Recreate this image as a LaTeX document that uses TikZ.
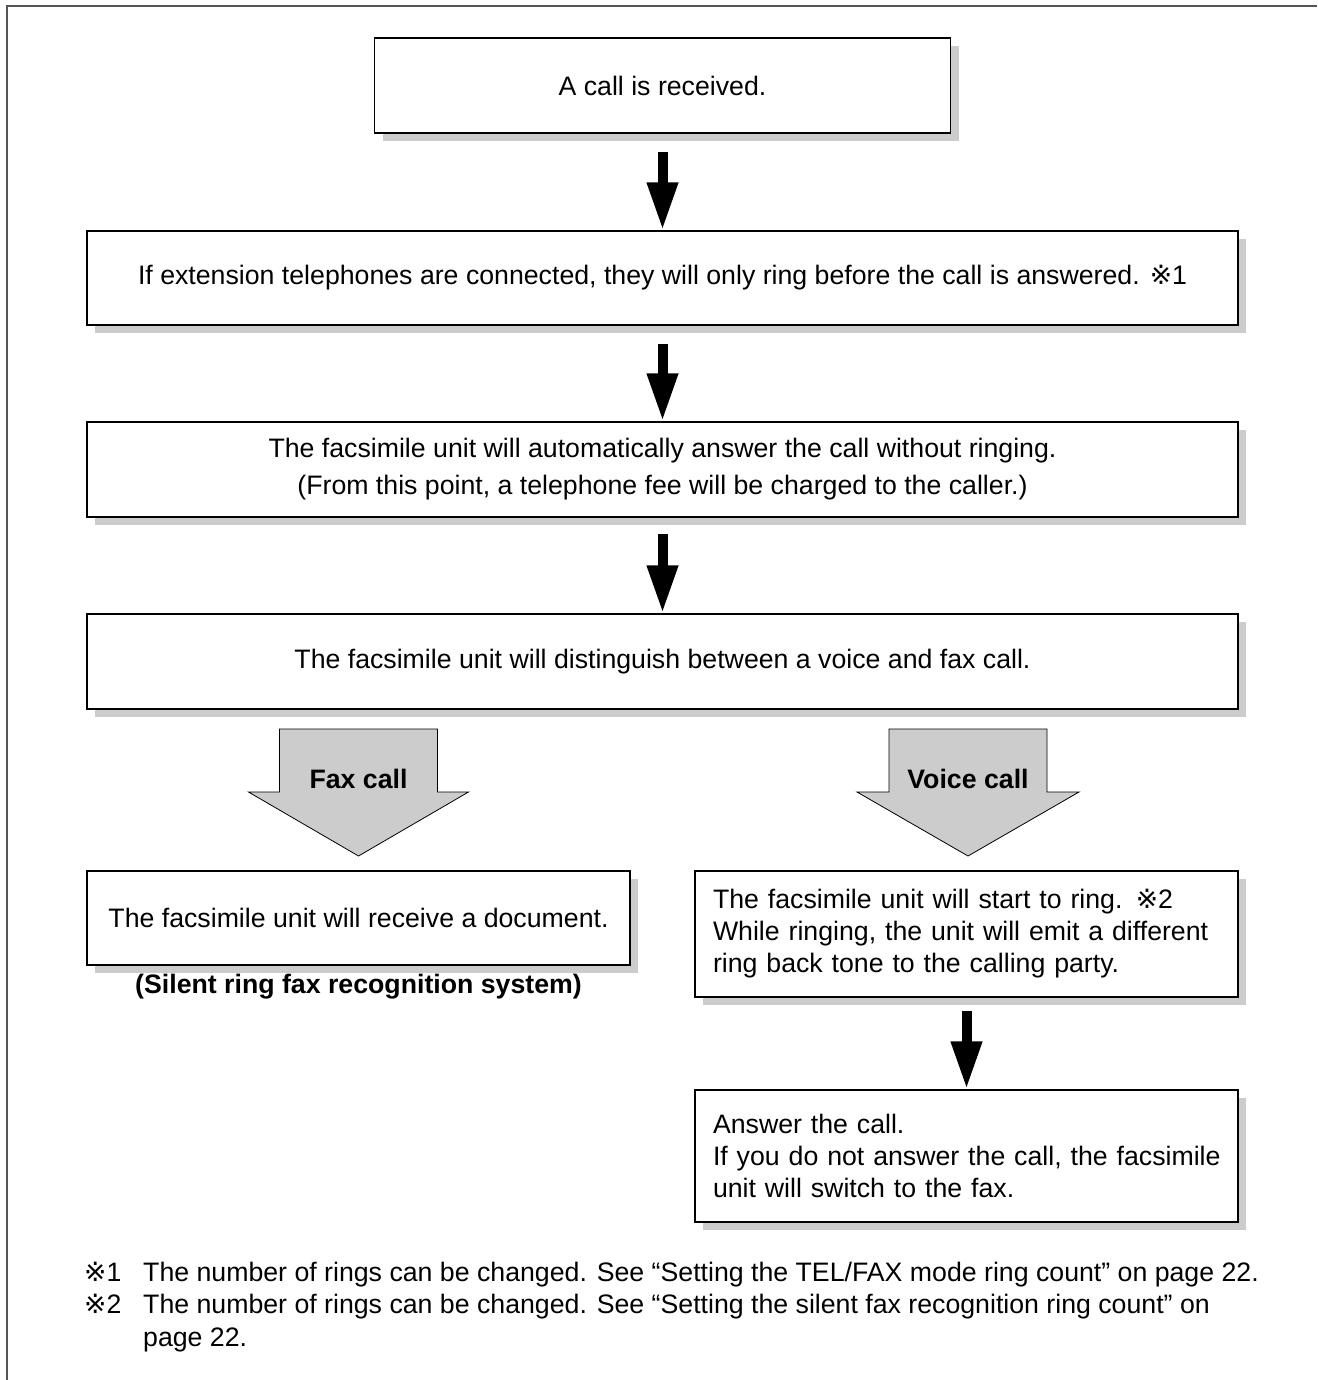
\documentclass[tikz,border=0pt]{standalone}
\usepackage{fontspec}
\setmainfont{Liberation Sans}
\newfontfamily\markfont{DejaVu Sans}
\usepackage{xcolor}
\usepackage{tikz}
\usetikzlibrary{arrows.meta,positioning,shadows}
\definecolor{framegray}{RGB}{85,85,85}
\definecolor{shadowgray}{RGB}{204,204,204}
\newcommand{\refmk}{{\markfont\char"203B}}

\begin{document}
\begin{tikzpicture}[x=1pt,y=-1pt,
    flowbox/.style={draw=black, line width=1.4pt, fill=white, inner sep=0pt,
        font=\fontsize{26.7}{32}\selectfont, align=center,
        drop shadow={shadow xshift=8pt, shadow yshift=-8pt, fill=shadowgray, opacity=1}},
    leftbox/.style={flowbox, text width=507pt, align=left, minimum width=543pt},
    bigarrow/.style={line width=10pt, -{Triangle[width=29pt,length=48pt]}},
    blockarrow/.style={draw=black, line width=0.8pt, fill=shadowgray, line join=miter},
    tag/.style={font=\fontsize{26.7}{32}\selectfont\bfseries, inner sep=0pt},
    note/.style={font=\fontsize{26.7}{32}\selectfont, inner sep=0pt, anchor=base west}]

    \useasboundingbox (0,0) rectangle (1317,1380);

    % page frame
    \draw[framegray, line width=2.5pt] (7,1380) -- (7,6) -- (1317,6);

    % main column
    \node[flowbox, minimum width=576pt, minimum height=95pt] (recv) at (662.5,85.5) {A call is received.};
    \node[flowbox, minimum width=1151pt, minimum height=94pt] (ext) at (662.5,278)
        {If extension telephones are connected, they will only ring before the call is answered. \refmk1};
    \node[flowbox, minimum width=1151pt, minimum height=95pt, font=\fontsize{26.7}{37}\selectfont] (auto) at (662.5,469.5)
        {The facsimile unit will automatically answer the call without ringing.\\(From this point, a telephone fee will be charged to the caller.)};
    \node[flowbox, minimum width=1151pt, minimum height=95pt] (dist) at (662.5,661.5)
        {The facsimile unit will distinguish between a voice and fax call.};

    \draw[bigarrow] ([yshift=-18pt]recv.south) -- (ext.north);
    \draw[bigarrow] ([yshift=-18pt]ext.south) -- (auto.north);
    \draw[bigarrow] ([yshift=-16pt]auto.south) -- (dist.north);

    % fax branch
    \coordinate (faxtop) at (358.5,729);
    \draw[blockarrow, shift={(faxtop)}] (-79,0) -- (79,0) -- (79,63) -- (110,63) -- (0,127)
        -- (-110,63) -- (-79,63) -- cycle;
    \node[tag] (faxlbl) at ([yshift=-50pt]faxtop) {Fax call};
    \node[flowbox, minimum width=543pt, minimum height=94pt] (faxrx) at (358.5,918)
        {The facsimile unit will receive a document.};
    \node[tag] (silent) at (358.5,987) {(Silent ring fax recognition system)};

    % voice branch
    \coordinate (voicetop) at (968,729);
    \draw[blockarrow, shift={(voicetop)}] (-79,0) -- (79,0) -- (79,63) -- (111,63) -- (0,127)
        -- (-111,63) -- (-79,63) -- cycle;
    \node[tag] (voicelbl) at ([yshift=-50pt]voicetop) {Voice call};
    \node[leftbox, minimum height=126pt] (ring) at (966.5,934)
        {The facsimile unit will start to ring. \refmk2\\While ringing, the unit will emit a different\\ring back tone to the calling party.};
    \node[leftbox, minimum height=132pt] (answer) at (966.5,1156)
        {Answer the call.\\\mbox{If you do not answer the call, the facsimile}\\unit will switch to the fax.};

    \draw[bigarrow] ([yshift=-13pt]ring.south) -- (answer.north);

    % footnotes
    \node[note] (mk1) at (84,1281) {\refmk1};
    \node[note] (fn1) at (143,1281) {The number of rings can be changed. See “Setting the TEL/FAX mode ring count” on page 22.};
    \node[note] (mk2) at (84,1313) {\refmk2};
    \node[note] (fn2) at (143,1313) {The number of rings can be changed. See “Setting the silent fax recognition ring count” on};
    \node[note] (fn2b) at (143,1346) {page 22.};

\end{tikzpicture}
\end{document}
